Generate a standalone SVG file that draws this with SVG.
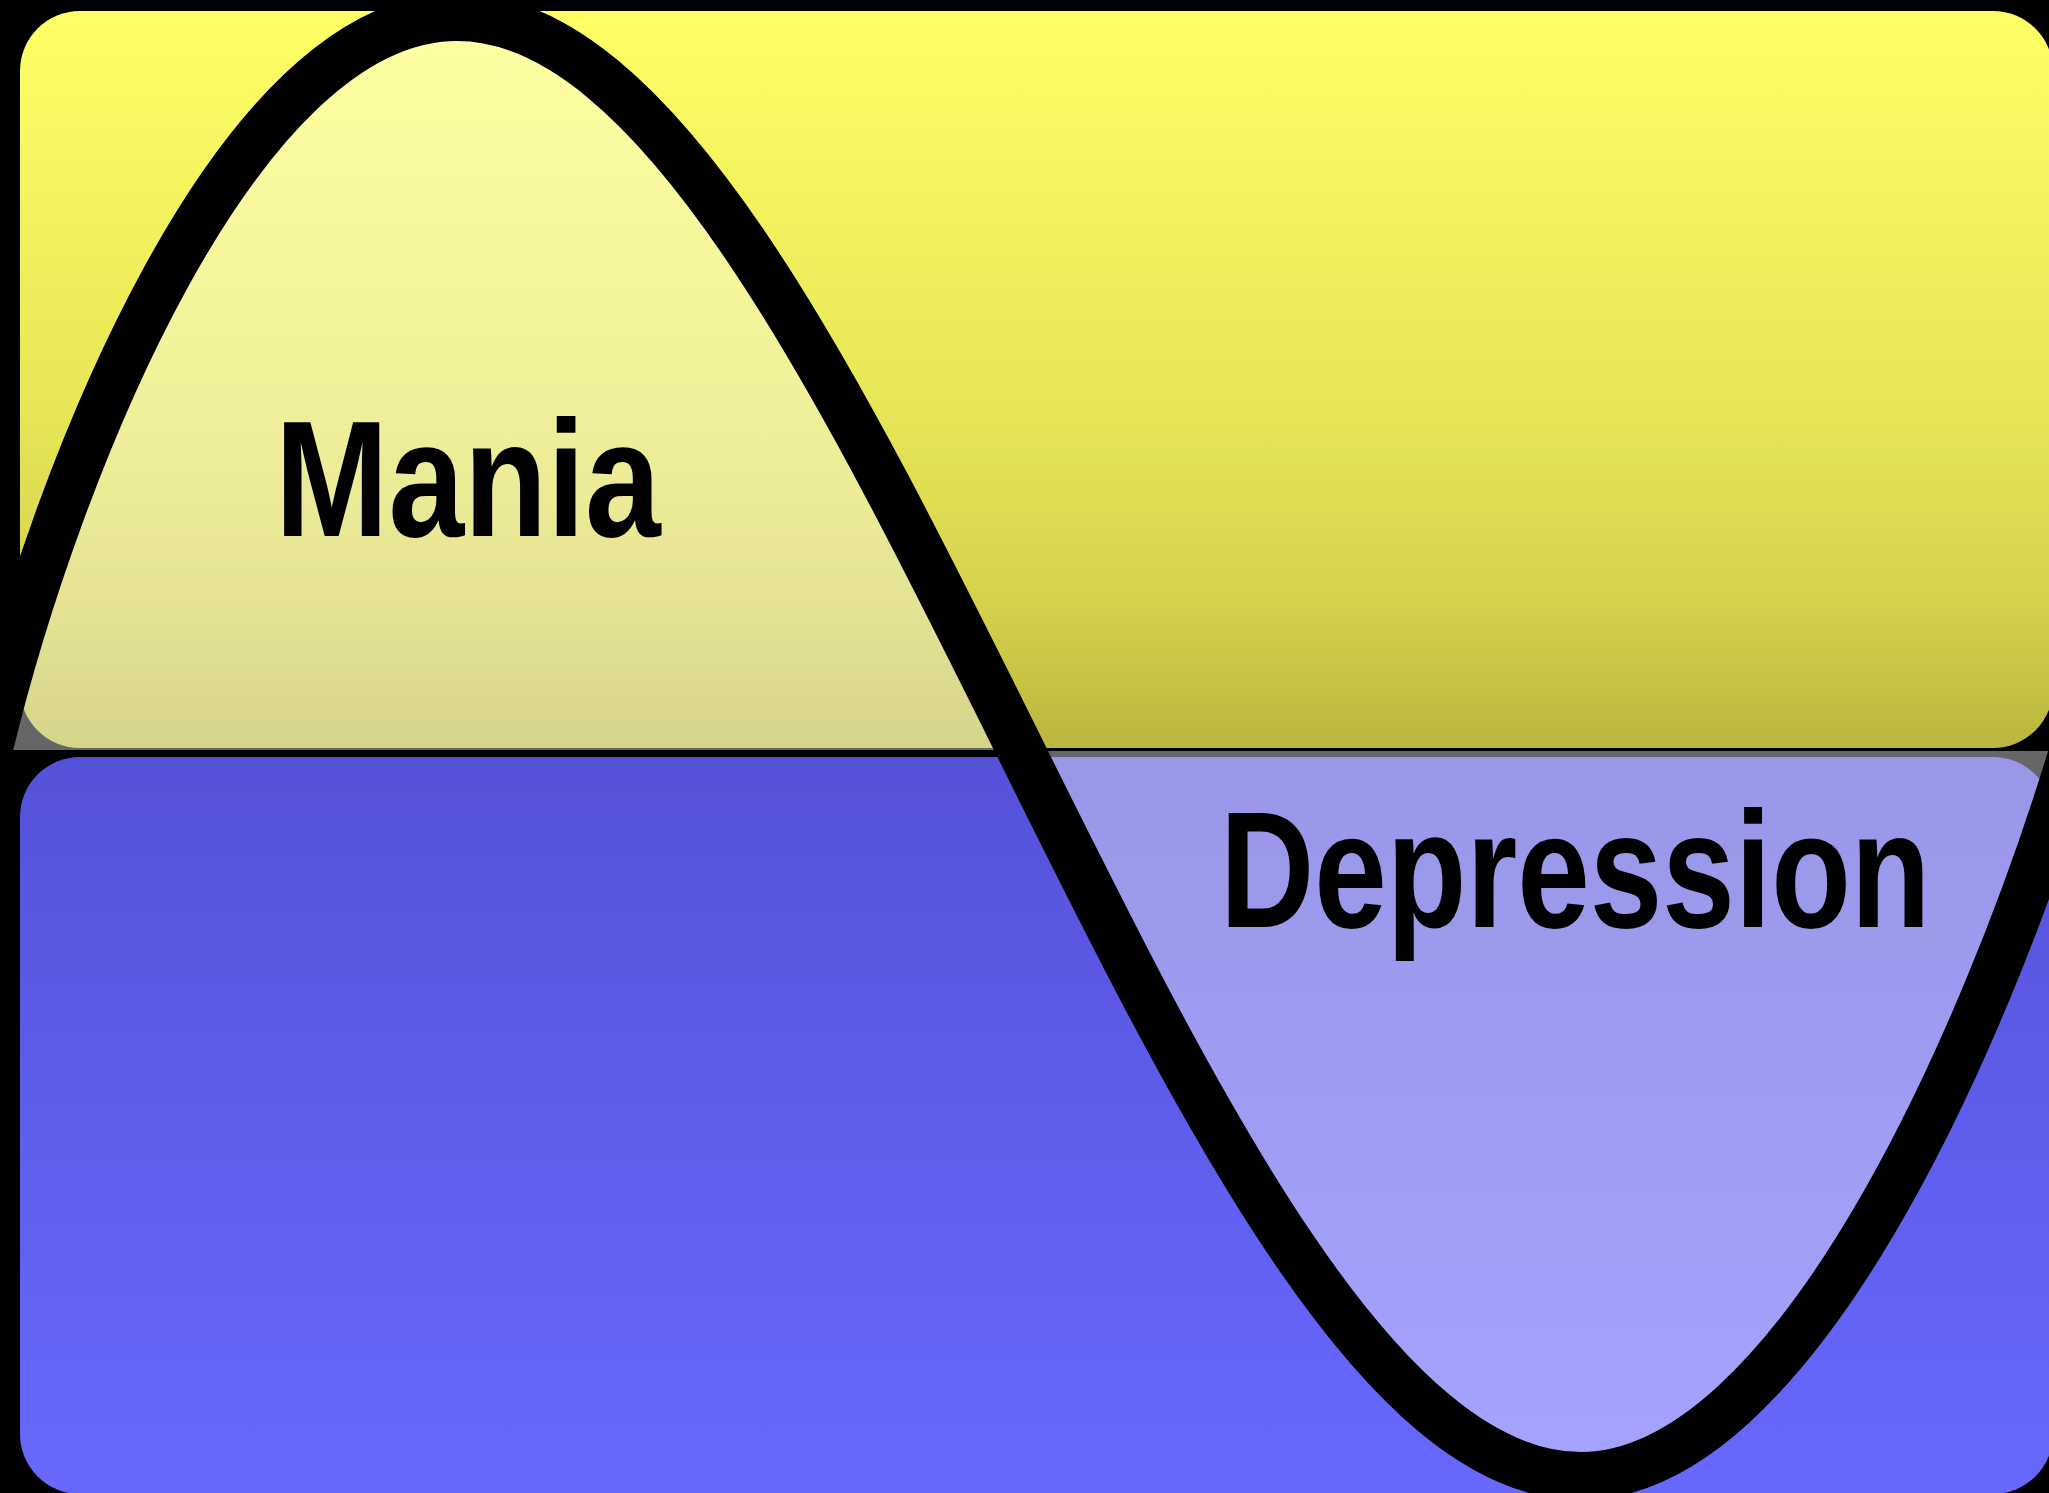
<svg xmlns="http://www.w3.org/2000/svg" width="2049" height="1493" viewBox="0 0 2049 1493">
  <defs>
    <linearGradient id="gYellow" x1="0" y1="0" x2="0" y2="1">
      <stop offset="0" stop-color="#ffff66"/>
      <stop offset="0.55" stop-color="#e6e657"/>
      <stop offset="0.8" stop-color="#d5d24d"/>
      <stop offset="1" stop-color="#bbb63f"/>
    </linearGradient>
    <linearGradient id="gBlue" x1="0" y1="0" x2="0" y2="1">
      <stop offset="0" stop-color="#5552d8"/>
      <stop offset="1" stop-color="#6868ff"/>
    </linearGradient>
    <style>
      .overlay { fill: #ffffff; fill-opacity: 0.4; stroke: none; }
      .wave { fill: none; stroke: #000000; stroke-width: 48; stroke-linejoin: round; }
      .label { font-family: "Liberation Sans", Arial, sans-serif; font-weight: bold; font-size: 166px; fill: #000000; }
    </style>
  </defs>
  <rect x="0" y="0" width="2049" height="1493" fill="#000000"/>
  <g id="mania">
    <rect x="20" y="11" width="2033" height="737" rx="60" ry="60" fill="url(#gYellow)"/>
    <path class="overlay" d="M -11,750 L -11,748 C 57,467 237,17 457,17 C 657,17 838,381.75 1019,746.5 L 1021,750 Z"/>
    <text class="label" transform="translate(275,536) scale(0.82,1)">Mania</text>
  </g>
  <g id="depression">
    <rect x="20" y="757" width="2033" height="737" rx="60" ry="60" fill="url(#gBlue)"/>
    <path class="overlay" d="M 1021,751 C 1200,1111.25 1381,1476 1581,1476 C 1791,1476 1985,1045 2075,745 L 2075,751 Z"/>
    <text class="label" transform="translate(1220,927) scale(0.786,1)">Depression</text>
  </g>
  <g id="connectors">
    <path class="wave" d="M -28,818 L -11,748 C 57,467 237,17 457,17 C 857,17 1181,1476 1581,1476 C 1791,1476 1985,1045 2075,745 L 2097,670"/>
  </g>
</svg>
